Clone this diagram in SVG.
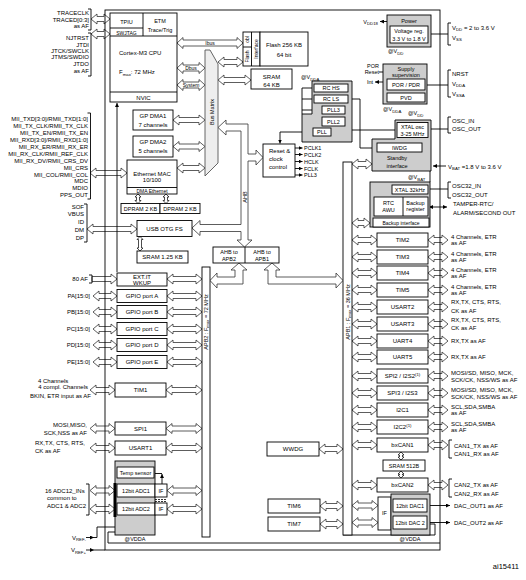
<svg xmlns="http://www.w3.org/2000/svg" width="526" height="580" viewBox="0 0 526 580">
<defs>
<marker id="ah" viewBox="0 0 6 6" refX="6" refY="3" markerWidth="4" markerHeight="4" markerUnits="userSpaceOnUse" orient="auto-start-reverse"><path d="M0,0L6,3L0,6z" fill="#000"/></marker>
<style>
text{font-family:"Liberation Sans",Arial,sans-serif;font-size:6px;fill:#000}
.e{text-anchor:end}
.m{text-anchor:middle}
.s5{font-size:5px}
.s55{font-size:5.5px}
.sb{font-size:4.3px}
.b{fill:#fff;stroke:#000;stroke-width:0.9}
.g{fill:#cdcdcd;stroke:#000;stroke-width:0.9}
.l{fill:none;stroke:#000;stroke-width:0.9}
.la{fill:none;stroke:#000;stroke-width:0.9;marker-end:url(#ah)}
.a{fill:#fff;stroke:#333;stroke-width:0.8}
.v{fill:#fff;stroke:#000;stroke-width:0.7}
</style>
</defs>
<rect width="526" height="580" fill="#fff"/>

<g id="connectors">
<!-- external left -->
<path class="a" d="M91,19l6,-5v2.5h7v-2.5l6,5l-6,5v-2.5h-7v2.5z"/>
<path class="a" d="M91,34l6,-5v2.5h7v-2.5l6,5l-6,5v-2.5h-7v2.5z"/>
<path class="a" d="M90,173l6,-5v2.5h25v-2.5l6,5l-6,5v-2.5h-25v2.5z"/>
<path class="a" d="M87,229l6,-5v2.5h38v-2.5l6,5l-6,5v-2.5h-38v2.5z"/>
<path class="a" d="M92,276.5h19v-2.5l6,5l-6,5v-2.5h-19z"/>
<path class="a" d="M93,296l6,-5v2.5h12v-2.5l6,5l-6,5v-2.5h-12v2.5z"/>
<path class="a" d="M93,312l6,-5v2.5h12v-2.5l6,5l-6,5v-2.5h-12v2.5z"/>
<path class="a" d="M93,329l6,-5v2.5h12v-2.5l6,5l-6,5v-2.5h-12v2.5z"/>
<path class="a" d="M93,345l6,-5v2.5h12v-2.5l6,5l-6,5v-2.5h-12v2.5z"/>
<path class="a" d="M93,362l6,-5v2.5h12v-2.5l6,5l-6,5v-2.5h-12v2.5z"/>
<path class="a" d="M90,390l6,-5v2.5h13v-2.5l6,5l-6,5v-2.5h-13v2.5z"/>
<path class="a" d="M90,428.5l6,-5v2.5h13v-2.5l6,5l-6,5v-2.5h-13v2.5z"/>
<path class="a" d="M90,448l6,-5v2.5h13v-2.5l6,5l-6,5v-2.5h-13v2.5z"/>
<path class="a" d="M90,490.5l6,-5v2.5h13v-2.5l6,5l-6,5v-2.5h-13v2.5z"/>
<path class="a" d="M90,509l6,-5v2.5h13v-2.5l6,5l-6,5v-2.5h-13v2.5z"/>
<!-- to APB2 -->
<path class="a" d="M167,279l6,-5v2.5h23v-2.5l6,5l-6,5v-2.5h-23v2.5z"/>
<path class="a" d="M167,296l6,-5v2.5h23v-2.5l6,5l-6,5v-2.5h-23v2.5z"/>
<path class="a" d="M167,312l6,-5v2.5h23v-2.5l6,5l-6,5v-2.5h-23v2.5z"/>
<path class="a" d="M167,329l6,-5v2.5h23v-2.5l6,5l-6,5v-2.5h-23v2.5z"/>
<path class="a" d="M167,345l6,-5v2.5h23v-2.5l6,5l-6,5v-2.5h-23v2.5z"/>
<path class="a" d="M167,362l6,-5v2.5h23v-2.5l6,5l-6,5v-2.5h-23v2.5z"/>
<path class="a" d="M166,390l6,-5v2.5h24v-2.5l6,5l-6,5v-2.5h-24v2.5z"/>
<path class="a" d="M166,428.5l6,-5v2.5h24v-2.5l6,5l-6,5v-2.5h-24v2.5z"/>
<path class="a" d="M166,448l6,-5v2.5h24v-2.5l6,5l-6,5v-2.5h-24v2.5z"/>
<path class="a" d="M167,490.5l6,-5v2.5h23v-2.5l6,5l-6,5v-2.5h-23v2.5z"/>
<path class="a" d="M167,509l6,-5v2.5h23v-2.5l6,5l-6,5v-2.5h-23v2.5z"/>
<!-- matrix -->
<path class="a" d="M177,43l6,-5.5v2.5h54v-2.5l6,5.5l-6,5.5v-2.5h-54v2.5z"/>
<path class="a" d="M177,68l6,-5.5v2.5h16v-2.5l6,5.5l-6,5.5v-2.5h-16v2.5z"/>
<path class="a" d="M177,85l6,-5.5v2.5h16v-2.5l6,5.5l-6,5.5v-2.5h-16v2.5z"/>
<path class="a" d="M173,120l6,-5v2.5h20v-2.5l6,5l-6,5v-2.5h-20v2.5z"/>
<path class="a" d="M173,146.5l6,-5v2.5h20v-2.5l6,5l-6,5v-2.5h-20v2.5z"/>
<path class="a" d="M177,168l6,-5v2.5h16v-2.5l6,5l-6,5v-2.5h-16v2.5z"/>
<path class="a" d="M218,62l6,-5v2.5h13v-2.5l6,5l-6,5v-2.5h-13v2.5z"/>
<path class="a" d="M218,80l6,-5v2.5h21v-2.5l6,5l-6,5v-2.5h-21v2.5z"/>
<!-- AHB -->
<path class="a" d="M218,127.5L226,120L226,124L248,124L248,154L256,154L256,150L263,157.5L256,165L256,161L248,161L248,240L252,240L244.5,247L237,240L241,240L241,231.5L200,231.5L200,235.5L192,228L200,220.5L200,224.5L241,224.5L241,131L226,131L226,135Z"/>
<path class="a" d="M239,263L247,270L243,270L243,284L217,284L217,288L210,280.5L217,273L217,277L235,277L235,270L231,270Z"/>
<path class="a" d="M272,263L280,270L276,270L276,277L336,277L336,273L343,280.5L336,288L336,284L268,284L268,270L264,270Z"/>
<!-- APB1 to right modules -->
<path class="a" d="M352,240l6,-5v2.5h13v-2.5l6,5l-6,5v-2.5h-13v2.5z"/>
<path class="a" d="M352,257l6,-5v2.5h13v-2.5l6,5l-6,5v-2.5h-13v2.5z"/>
<path class="a" d="M352,273l6,-5v2.5h13v-2.5l6,5l-6,5v-2.5h-13v2.5z"/>
<path class="a" d="M352,290l6,-5v2.5h13v-2.5l6,5l-6,5v-2.5h-13v2.5z"/>
<path class="a" d="M352,307l6,-5v2.5h13v-2.5l6,5l-6,5v-2.5h-13v2.5z"/>
<path class="a" d="M352,324l6,-5v2.5h13v-2.5l6,5l-6,5v-2.5h-13v2.5z"/>
<path class="a" d="M352,341l6,-5v2.5h13v-2.5l6,5l-6,5v-2.5h-13v2.5z"/>
<path class="a" d="M352,357l6,-5v2.5h13v-2.5l6,5l-6,5v-2.5h-13v2.5z"/>
<path class="a" d="M352,376l6,-5v2.5h13v-2.5l6,5l-6,5v-2.5h-13v2.5z"/>
<path class="a" d="M352,393l6,-5v2.5h13v-2.5l6,5l-6,5v-2.5h-13v2.5z"/>
<path class="a" d="M352,410l6,-5v2.5h13v-2.5l6,5l-6,5v-2.5h-13v2.5z"/>
<path class="a" d="M352,427l6,-5v2.5h13v-2.5l6,5l-6,5v-2.5h-13v2.5z"/>
<path class="a" d="M352,445l6,-5v2.5h13v-2.5l6,5l-6,5v-2.5h-13v2.5z"/>
<path class="a" d="M352,485l6,-5v2.5h13v-2.5l6,5l-6,5v-2.5h-13v2.5z"/>
<path class="a" d="M352,505.5l6,-5v2.5h14v-2.5l6,5l-6,5v-2.5h-14v2.5z"/>
<path class="a" d="M352,522.5l6,-5v2.5h14v-2.5l6,5l-6,5v-2.5h-14v2.5z"/>
<path class="a" d="M352,164l6,-5v2.5h8v-2.5l6,5l-6,5v-2.5h-8v2.5z"/>
<path class="a" d="M352,223l6,-5v2.5h6v-2.5l6,5l-6,5v-2.5h-6v2.5z"/>
<path class="a" d="M319,449l6,-5v2.5h12v-2.5l6,5l-6,5v-2.5h-12v2.5z"/>
<path class="a" d="M320,506l6,-5v2.5h11v-2.5l6,5l-6,5v-2.5h-11v2.5z"/>
<path class="a" d="M320,524l6,-5v2.5h11v-2.5l6,5l-6,5v-2.5h-11v2.5z"/>
<!-- right external -->
<path class="a" d="M428,240l6,-5v2.5h8v-2.5l6,5l-6,5v-2.5h-8v2.5z"/>
<path class="a" d="M428,257l6,-5v2.5h8v-2.5l6,5l-6,5v-2.5h-8v2.5z"/>
<path class="a" d="M428,273l6,-5v2.5h8v-2.5l6,5l-6,5v-2.5h-8v2.5z"/>
<path class="a" d="M428,290l6,-5v2.5h8v-2.5l6,5l-6,5v-2.5h-8v2.5z"/>
<path class="a" d="M428,307l6,-5v2.5h8v-2.5l6,5l-6,5v-2.5h-8v2.5z"/>
<path class="a" d="M428,324l6,-5v2.5h8v-2.5l6,5l-6,5v-2.5h-8v2.5z"/>
<path class="a" d="M428,341l6,-5v2.5h8v-2.5l6,5l-6,5v-2.5h-8v2.5z"/>
<path class="a" d="M428,357l6,-5v2.5h8v-2.5l6,5l-6,5v-2.5h-8v2.5z"/>
<path class="a" d="M428,376l6,-5v2.5h8v-2.5l6,5l-6,5v-2.5h-8v2.5z"/>
<path class="a" d="M428,393l6,-5v2.5h8v-2.5l6,5l-6,5v-2.5h-8v2.5z"/>
<path class="a" d="M428,410l6,-5v2.5h8v-2.5l6,5l-6,5v-2.5h-8v2.5z"/>
<path class="a" d="M428,427l6,-5v2.5h8v-2.5l6,5l-6,5v-2.5h-8v2.5z"/>
<path class="a" d="M428,445l6,-5v2.5h8v-2.5l6,5l-6,5v-2.5h-8v2.5z"/>
<path class="a" d="M428,485l6,-5v2.5h8v-2.5l6,5l-6,5v-2.5h-8v2.5z"/>
<!-- small vertical -->
<path class="v" d="M138,194l-3,3h1.5v3.5h-1.5l3,3l3,-3h-1.5v-3.5h1.5z"/>
<path class="v" d="M166,194l-3,3h1.5v3.5h-1.5l3,3l3,-3h-1.5v-3.5h1.5z"/>
<path class="v" d="M140,236.5l-3,3h1.5v8.5h-1.5l3,3l3,-3h-1.5v-8.5h1.5z"/>
<path class="v" d="M401,452l-3,3h1.5v2h-1.5l3,3l3,-3h-1.5v-2h1.5z"/>
<path class="v" d="M401,471l-3,3h1.5v1h-1.5l3,3l3,-3h-1.5v-1h1.5z"/>
<!-- brackets and lines -->
<path class="l" d="M88,9H91V30H88M88,33H91V76H88M87.5,113H90.5V199H87.5M84,204H87V242H84M89,275H92V283H89M86,484H89V515H86"/>
<path class="l" d="M451,23H448V45H451M451,70H448V97H451M451,117H448V133H451M451,182H448V198H451M452,440H449V458H452M452,479H449V497H452"/>
<path class="l" d="M431,34H448M426,85H448M429,129H448M428,189H448"/>
<path class="l" d="M302,88H314M302,99H314M302,110H322M302,88V114"/>
<path class="l" d="M348,99H360V148H377M352,130H397"/>
<path class="la" d="M313,132H280V143.5"/>
<path class="la" d="M117,272V103"/>
<path class="la" d="M295,148H302.5"/>
<path class="la" d="M295,154.5H302.5"/>
<path class="la" d="M295,161.5H302.5"/>
<path class="la" d="M295,168.5H302.5"/>
<path class="la" d="M295,175H302.5"/>
<path class="la" d="M387,21.5H380"/>
<path class="la" d="M383,82H375"/>
<path class="l" d="M383,72H379"/>
<path class="la" d="M446,166H433"/>
<path class="l" d="M430,171V182"/>
<path class="la" d="M392,189H385V196"/>
<path class="la" d="M429,207H447" marker-start="url(#ah)"/>
<path class="la" d="M162,484V474"/>
<path class="l" d="M154,473.5H162"/>
<path class="la" d="M86,537.5H94"/>
<path class="l" d="M94,537.5H97V527H115"/>
<path class="la" d="M86,550H94"/>
<path class="l" d="M94,550H105M115,532H108V543H440M343,535H435V524H430"/>
<path class="la" d="M427,505.5H450"/>
<path class="la" d="M427,522.5H450"/>
</g>

<g id="chip-outline"><rect x="105" y="10" width="335" height="540" class="l"/></g>

<g id="pins-left">
<text x="89" y="15" class="e">TRACECLK</text>
<text x="89" y="21.5" class="e">TRACED[0:3]</text>
<text x="89" y="28" class="e">as AF</text>
<text x="89" y="40" class="e">NJTRST</text>
<text x="89" y="46.5" class="e">JTDI</text>
<text x="89" y="53" class="e">JTCK/SWCLK</text>
<text x="89" y="59" class="e">JTMS/SWDIO</text>
<text x="89" y="66" class="e">JTDO</text>
<text x="89" y="73" class="e">as AF</text>
<text x="88" y="121.2" class="e">MII_TXD[3:0]/RMII_TXD[1:0]</text>
<text x="88" y="128.1" class="e">MII_TX_CLK/RMII_TX_CLK</text>
<text x="88" y="135" class="e">MII_TX_EN/RMII_TX_EN</text>
<text x="88" y="141.9" class="e">MII_RXD[3:0]/RMII_RXD[1:0]</text>
<text x="88" y="148.8" class="e">MII_RX_ER/RMII_RX_ER</text>
<text x="88" y="155.8" class="e">MII_RX_CLK/RMII_REF_CLK</text>
<text x="88" y="162.7" class="e">MII_RX_DV/RMII_CRS_DV</text>
<text x="88" y="169.6" class="e">MII_CRS</text>
<text x="88" y="176.5" class="e">MII_COL/RMII_COL</text>
<text x="88" y="183.4" class="e">MDC</text>
<text x="88" y="190.3" class="e">MDIO</text>
<text x="88" y="197.2" class="e">PPS_OUT</text>
<text x="84" y="209" class="e">SOF</text>
<text x="84" y="216.3" class="e">VBUS</text>
<text x="84" y="224.2" class="e">ID</text>
<text x="84" y="232.2" class="e">DM</text>
<text x="84" y="240" class="e">DP</text>
<text x="88" y="281" class="e">80 AF</text>
<text x="90" y="298" class="e">PA[15:0]</text>
<text x="90" y="314" class="e">PB[15:0]</text>
<text x="90" y="331" class="e">PC[15:0]</text>
<text x="90" y="347" class="e">PD[15:0]</text>
<text x="90" y="364" class="e">PE[15:0]</text>
<text x="38" y="383">4 Channels</text>
<text x="88" y="389" class="e">4 compl. Channels</text>
<text x="91" y="398" class="e">BKIN, ETR input as AF</text>
<text x="87" y="427" class="e">MOSI,MISO,</text>
<text x="87" y="434.5" class="e">SCK,NSS as AF</text>
<text x="35" y="445">RX,TX, CTS, RTS,</text>
<text x="35" y="452.5">CK as AF</text>
<text x="45" y="492.5">16 ADC12_INs</text>
<text x="47" y="499.5">common to</text>
<text x="47" y="507.5">ADC1 &amp; ADC2</text>
<text x="86" y="539.5" class="e">V<tspan class="sb" dy="1.5">REF-</tspan></text>
<text x="86" y="552" class="e">V<tspan class="sb" dy="1.5">REF+</tspan></text>
</g>

<g id="cpu">
<rect x="110" y="13" width="67" height="89" class="b"/>
<path class="l" d="M143,13V36M110,28H143M110,36H177M110,92H177"/>
<text x="126.5" y="24" class="m s55">TPIU</text>
<text x="126.5" y="34.5" class="m s5">SWJTAG</text>
<text x="160" y="23" class="m s55">ETM</text>
<text x="160" y="31.5" class="m s55">Trace/Trig</text>
<text x="119" y="55">Cortex-M3 CPU</text>
<text x="119" y="74">F<tspan class="sb" dy="1.5">max</tspan><tspan dy="-1.5">: 72 MHz</tspan></text>
<text x="143.5" y="99.5" class="m">NVIC</text>
</g>

<g id="bus-labels">
<text x="210" y="45" class="m s5">Ibus</text>
<text x="191" y="70" class="m s5">Dbus</text>
<text x="191" y="87" class="m s5">System</text>
</g>

<g id="bus-matrix">
<path d="M205,50L210,50L218,64L218,163L205,176Z" fill="#eee" stroke="#555" stroke-width="0.9"/>
<text transform="translate(213.5,112) rotate(-90)" class="m s55">Bus Matrix</text>
</g>

<g id="flash">
<rect x="243" y="32" width="17" height="34" class="b"/>
<path class="l" d="M251.5,32V66M243,47H251.5"/>
<text transform="translate(249,39.5) rotate(-90)" class="m s5">obl</text>
<text transform="translate(249,56.5) rotate(-90)" class="m s5">Flash</text>
<text transform="translate(257.5,49) rotate(-90)" class="m s5">Interface</text>
<rect x="260" y="32" width="48" height="34" class="b"/>
<text x="284" y="46.5" class="m">Flash 256 KB</text>
<text x="284" y="57" class="m">64 bit</text>
</g>

<g id="sram64">
<rect x="251" y="69" width="41" height="20" class="b"/>
<text x="271.5" y="78.5" class="m">SRAM</text>
<text x="271.5" y="86.5" class="m">64 KB</text>
</g>

<g id="clocks">
<text x="301" y="79" class="s55">@V<tspan class="sb" dy="1.5">DDA</tspan></text>
<path d="M312,81L352,81L352,142L302,142L302,114L312,114Z" class="g"/>
<rect x="314" y="84" width="34" height="8" class="b"/>
<text x="331" y="90.2" class="m s55">RC HS</text>
<rect x="314" y="95" width="34" height="8" class="b"/>
<text x="331" y="101.2" class="m s55">RC LS</text>
<rect x="322" y="106" width="23" height="8" class="b"/>
<text x="333.5" y="112.2" class="m s55">PLL3</text>
<rect x="322" y="117" width="23" height="9" class="b"/>
<text x="333.5" y="123.7" class="m s55">PLL2</text>
<rect x="313" y="128" width="18" height="8" class="b"/>
<text x="322" y="134.2" class="m s55">PLL</text>
</g>

<g id="reset-clock">
<rect x="263" y="144" width="32" height="33" class="b"/>
<text x="269" y="153">Reset &amp;</text>
<text x="269" y="160.5">clock</text>
<text x="269" y="168.5">control</text>
<text x="304" y="150" class="s55">PCLK1</text>
<text x="304" y="156.5" class="s55">PCLK2</text>
<text x="304" y="163.5" class="s55">HCLK</text>
<text x="304" y="170.5" class="s55">FCLK</text>
<text x="304" y="177" class="s55">PLL3</text>
</g>

<g id="power">
<text x="378" y="23.5" class="e s55">V<tspan class="sb" dy="1.5">DD18</tspan></text>
<rect x="387" y="15" width="44" height="32" class="g"/>
<text x="409" y="22.5" class="m s55">Power</text>
<rect x="390" y="26" width="38" height="17" class="b"/>
<text x="409" y="33" class="m s55">Voltage reg.</text>
<text x="409" y="40.5" class="m s55">3.3 V to 1.8 V</text>
<text x="388" y="53" class="s55">@V<tspan class="sb" dy="1.5">DD</tspan></text>
<text x="452" y="29.5">V<tspan class="sb" dy="1.5">DD</tspan><tspan dy="-1.5"> = 2 to 3.6 V</tspan></text>
<text x="452" y="39.5">V<tspan class="sb" dy="1.5">SS</tspan></text>
</g>

<g id="supply">
<text x="379" y="67.5" class="e s55">POR</text>
<text x="379" y="74" class="e s55">Reset</text>
<text x="373" y="84" class="e s55">Int</text>
<rect x="383" y="64" width="44" height="40" class="g"/>
<text x="406" y="70.5" class="m s55">Supply</text>
<text x="406" y="77" class="m s55">supervision</text>
<rect x="387" y="79" width="38" height="11" class="b"/>
<text x="406" y="86.7" class="m s55">POR / PDR</text>
<rect x="387" y="93" width="38" height="9" class="b"/>
<text x="406" y="99.7" class="m s55">PVD</text>
<text x="383" y="111" class="s55">@V<tspan class="sb" dy="1.5">DDA</tspan></text>
<text x="452" y="75.5">NRST</text>
<text x="452" y="85.5">V<tspan class="sb" dy="1.5">DDA</tspan></text>
<text x="452" y="95.5">V<tspan class="sb" dy="1.5">SSA</tspan></text>
</g>

<g id="standby">
<text x="408" y="115" class="s55">@V<tspan class="sb" dy="1.5">DD</tspan></text>
<path d="M395,120L431,120L431,171L372,171L372,139L395,139Z" class="g"/>
<rect x="397" y="122.5" width="31" height="15" class="b"/>
<text x="412.5" y="129" class="m s55">XTAL osc</text>
<text x="412.5" y="135.5" class="m s55">3-25 MHz</text>
<rect x="377" y="143" width="45" height="9" class="b"/>
<text x="399.5" y="149.8" class="m s55">IWDG</text>
<text x="397" y="160" class="m s55">Standby</text>
<text x="397" y="167.5" class="m s55">interface</text>
<text x="452" y="123">OSC_IN</text>
<text x="452" y="131">OSC_OUT</text>
<text x="448" y="168.5">V<tspan class="sb" dy="1.5">BAT</tspan><tspan dy="-1.5"> =1.8 V to 3.6 V</tspan></text>
<text x="408" y="179" class="s55">@V<tspan class="sb" dy="1.5">BAT</tspan></text>
</g>

<g id="backup">
<rect x="370" y="182" width="60" height="45" class="g"/>
<rect x="392" y="185" width="36" height="9" class="b"/>
<text x="410" y="191.7" class="m s55">XTAL 32kHz</text>
<rect x="374" y="197" width="54" height="19" class="b"/>
<path class="l" d="M403,197V216"/>
<text x="388.5" y="205" class="m s55">RTC</text>
<text x="388.5" y="212" class="m s55">AWU</text>
<text x="415.5" y="204.5" class="m s55">Backup</text>
<text x="415.5" y="211" class="m s55">register</text>
<rect x="373" y="218" width="56" height="9" class="b"/>
<text x="401" y="224.8" class="m s5">Backup interface</text>
<text x="452" y="188">OSC32_IN</text>
<text x="452" y="196.5">OSC32_OUT</text>
<text x="453" y="206">TAMPER-RTC/</text>
<text x="453" y="215">ALARM/SECOND OUT</text>
</g>

<g id="dma1"><rect x="133" y="110" width="40" height="20" class="b"/>
<text x="153" y="118" class="m">GP DMA1</text><text x="153" y="127" class="m">7 channels</text></g>
<g id="dma2"><rect x="133" y="136" width="40" height="21" class="b"/>
<text x="153" y="144" class="m">GP DMA2</text><text x="153" y="153" class="m">5 channels</text></g>
<g id="ethernet"><rect x="127" y="160" width="50" height="34" class="b"/>
<path class="l" d="M127,187.5H177"/>
<text x="152" y="175.5" class="m">Ethernet MAC</text><text x="152" y="182" class="m">10/100</text>
<text x="152" y="192.8" class="m s5">DMA Ethernet</text></g>
<g id="dpram1"><rect x="121" y="203.5" width="39" height="10" class="b"/><text x="140.5" y="210.6" class="m s55">DPRAM 2 KB</text></g>
<g id="dpram2"><rect x="160" y="203.5" width="40" height="10" class="b"/><text x="180" y="210.6" class="m s55">DPRAM 2 KB</text></g>
<g id="usb"><rect x="137" y="220.5" width="55" height="16" class="b"/><text x="164.5" y="230.8" class="m">USB OTG FS</text></g>
<g id="sram125"><rect x="137" y="251" width="51" height="12" class="b"/><text x="162.5" y="259.2" class="m">SRAM 1.25 KB</text></g>

<g id="ahb-bridges">
<text transform="translate(246.5,197) rotate(-90)" class="m s55">AHB</text>
<rect x="213" y="247" width="66" height="16" class="b"/>
<path class="l" d="M245,247V263"/>
<text x="229" y="253.5" class="m s55">AHB to</text>
<text x="229" y="260.5" class="m s55">APB2</text>
<text x="262" y="253.5" class="m s55">AHB to</text>
<text x="262" y="260.5" class="m s55">APB1</text>
</g>

<g id="apb2-bus">
<rect x="202" y="267" width="8" height="270" class="b"/>
<text transform="translate(208,322) rotate(-90)" class="m s55">APB2 : F<tspan class="sb" dy="1.2">max</tspan><tspan dy="-1.2"> = 72 MHz</tspan></text>
</g>
<g id="apb1-bus">
<rect x="343" y="162" width="9" height="373" class="b"/>
<text transform="translate(349.5,312) rotate(-90)" class="m s55">APB1 : F<tspan class="sb" dy="1.2">max</tspan><tspan dy="-1.2"> = 36 MHz</tspan></text>
</g>

<g id="exti"><rect x="117" y="273" width="50" height="13" class="b"/>
<text x="142" y="278.5" class="m">EXT.IT</text><text x="142" y="284.7" class="m">WKUP</text></g>
<g id="gpioa"><rect x="117" y="289.5" width="50" height="13" class="b"/><text x="142" y="298.2" class="m">GPIO port A</text></g>
<g id="gpiob"><rect x="117" y="305.5" width="50" height="13" class="b"/><text x="142" y="314.2" class="m">GPIO port B</text></g>
<g id="gpioc"><rect x="117" y="322.5" width="50" height="13" class="b"/><text x="142" y="331.2" class="m">GPIO port C</text></g>
<g id="gpiod"><rect x="117" y="338.5" width="50" height="13" class="b"/><text x="142" y="347.2" class="m">GPIO port D</text></g>
<g id="gpioe"><rect x="117" y="355.5" width="50" height="13" class="b"/><text x="142" y="364.2" class="m">GPIO port E</text></g>
<g id="tim1"><rect x="115" y="383" width="51" height="14" class="b"/><text x="140.5" y="392.2" class="m">TIM1</text></g>
<g id="spi1"><rect x="115" y="422" width="51" height="13" class="b"/><text x="140.5" y="430.7" class="m">SPI1</text></g>
<g id="usart1"><rect x="115" y="441" width="51" height="14" class="b"/><text x="140.5" y="450.2" class="m">USART1</text></g>

<g id="adc">
<rect x="115" y="461" width="40" height="74" class="g"/>
<rect x="117" y="467" width="37" height="11" class="b"/>
<text x="135.5" y="474.7" class="m s55">Temp sensor</text>
<rect x="117" y="484" width="38" height="13" class="b"/>
<text x="136" y="492.5" class="m s55">12bit ADC1</text>
<rect x="117" y="503" width="38" height="12" class="b"/>
<text x="136" y="511" class="m s55">12bit ADC2</text>
<rect x="155" y="484" width="12" height="13" class="b"/>
<text x="161" y="492.5" class="m s55">IF</text>
<rect x="155" y="503" width="12" height="12" class="b"/>
<text x="161" y="511" class="m s55">IF</text>
<rect x="113.5" y="483" width="3" height="34" fill="#000"/>
<path d="M155,499.5H167M155,501.5H167" fill="none" stroke="#000" stroke-width="0.8" stroke-dasharray="2,1"/>
<text x="135" y="541" class="m s55">@VDDA</text>
</g>

<g id="tim2"><rect x="377" y="233" width="51" height="14" class="b"/><text x="402.5" y="242.2" class="m">TIM2</text></g>
<g id="tim3"><rect x="377" y="250" width="51" height="14" class="b"/><text x="402.5" y="259.2" class="m">TIM3</text></g>
<g id="tim4"><rect x="377" y="266" width="51" height="14" class="b"/><text x="402.5" y="275.2" class="m">TIM4</text></g>
<g id="tim5"><rect x="377" y="283" width="51" height="14" class="b"/><text x="402.5" y="292.2" class="m">TIM5</text></g>
<g id="usart2"><rect x="377" y="300" width="51" height="14" class="b"/><text x="402.5" y="309.2" class="m">USART2</text></g>
<g id="usart3"><rect x="377" y="317" width="51" height="14" class="b"/><text x="402.5" y="326.2" class="m">USART3</text></g>
<g id="uart4"><rect x="377" y="334" width="51" height="14" class="b"/><text x="402.5" y="343.2" class="m">UART4</text></g>
<g id="uart5"><rect x="377" y="350" width="51" height="14" class="b"/><text x="402.5" y="359.2" class="m">UART5</text></g>
<g id="spi2"><rect x="377" y="369" width="51" height="14" class="b"/><text x="402.5" y="378.2" class="m">SPI2 / I2S2<tspan class="sb" dy="-2">(1)</tspan></text></g>
<g id="spi3"><rect x="377" y="386" width="51" height="14" class="b"/><text x="402.5" y="395.2" class="m">SPI3 / I2S3</text></g>
<g id="i2c1"><rect x="377" y="403" width="51" height="14" class="b"/><text x="402.5" y="412.2" class="m">I2C1</text></g>
<g id="i2c2"><rect x="377" y="420" width="51" height="14" class="b"/><text x="402.5" y="429.2" class="m">I2C2<tspan class="sb" dy="-2">(1)</tspan></text></g>
<g id="bxcan1"><rect x="377" y="438" width="51" height="14" class="b"/><text x="402.5" y="447.2" class="m">bxCAN1</text></g>
<g id="sram512"><rect x="383" y="460" width="42" height="11" class="b"/><text x="404" y="467.8" class="m s55">SRAM 512B</text></g>
<g id="bxcan2"><rect x="377" y="478" width="51" height="14" class="b"/><text x="402.5" y="487.2" class="m">bxCAN2</text></g>
<g id="dac">
<rect x="378" y="497" width="13" height="33" class="b"/>
<text x="384.5" y="515" class="m s55">IF</text>
<rect x="391" y="494" width="39" height="41" class="g"/>
<rect x="393" y="499" width="34" height="13" class="b"/>
<text x="410" y="507.5" class="m s55">12bit DAC1</text>
<rect x="393" y="516" width="34" height="13" class="b"/>
<text x="410" y="524.5" class="m s55">12bit DAC 2</text>
<text x="410" y="540.5" class="m s55">@VDDA</text>
</g>
<g id="wwdg"><rect x="267" y="442" width="52" height="14" class="b"/><text x="293" y="451.2" class="m">WWDG</text></g>
<g id="tim6"><rect x="268" y="499" width="52" height="14" class="b"/><text x="294" y="508.2" class="m">TIM6</text></g>
<g id="tim7"><rect x="268" y="517" width="52" height="14" class="b"/><text x="294" y="526.2" class="m">TIM7</text></g>

<g id="pins-right">
<text x="451" y="238.5">4 Channels, ETR</text><text x="451" y="245">as AF</text>
<text x="451" y="255.5">4 Channels, ETR</text><text x="451" y="262">as AF</text>
<text x="451" y="271.5">4 Channels, ETR</text><text x="451" y="278">as AF</text>
<text x="451" y="288.5">4 Channels, ETR</text><text x="451" y="295">as AF</text>
<text x="451" y="304">RX,TX, CTS, RTS,</text><text x="451" y="312.5">CK as AF</text>
<text x="451" y="321.5">RX,TX, CTS, RTS,</text><text x="451" y="330">CK as AF</text>
<text x="451" y="343">RX,TX as AF</text>
<text x="451" y="359">RX,TX as AF</text>
<text x="451" y="374.5">MOSI/SD, MISO, MCK,</text><text x="451" y="381.5">SCK/CK, NSS/WS as AF</text>
<text x="451" y="391.5">MOSI/SD, MISO, MCK,</text><text x="451" y="398.5">SCK/CK, NSS/WS as AF</text>
<text x="451" y="408.5">SCL,SDA,SMBA</text><text x="451" y="414.5">as AF</text>
<text x="451" y="425.5">SCL,SDA,SMBA</text><text x="451" y="431.5">as AF</text>
<text x="454" y="447.5">CAN1_TX as AF</text><text x="454" y="456">CAN1_RX as AF</text>
<text x="454" y="487">CAN2_TX as AF</text><text x="454" y="495.5">CAN2_RX as AF</text>
<text x="454" y="508">DAC_OUT1 as AF</text>
<text x="454" y="525">DAC_OUT2 as AF</text>
</g>
<text x="519" y="569" class="e" style="font-size:7.5px">ai15411</text>
</svg>
